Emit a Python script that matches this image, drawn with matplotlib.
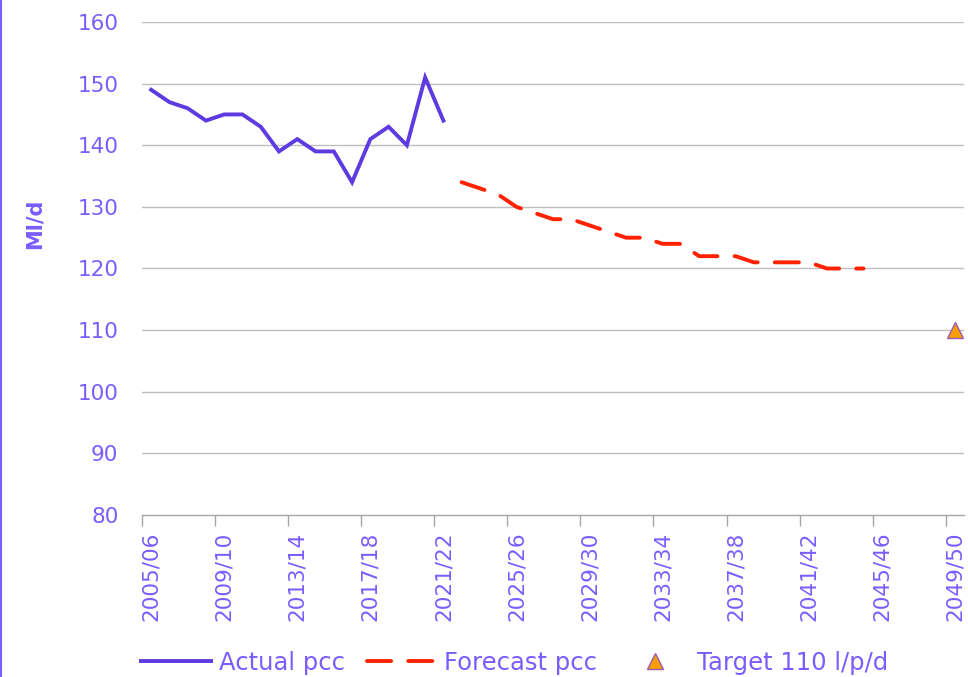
import matplotlib
matplotlib.use('Agg')
from matplotlib import pyplot as plt
from matplotlib.lines import Line2D
import numpy as np

years = [f'{y}/{(y + 1) % 100:02d}' for y in range(2005, 2050)]
actual_pcc = [149, 147, 146, 144, 145, 145, 143, 139, 141, 139, 139, 134, 141, 143, 140, 151, 144]
forecast_start = '2022/23'
forecast_pcc = [134, 133, 132, 130, 129, 128, 128, 127, 126, 125, 125, 124, 124, 122, 122, 122,
                121, 121, 121, 121, 120, 120, 120]
target_year = '2049/50'
target_pcc = [110]

text_c = '#7B5CFF'
actual_c = '#5E3BE1'
forecast_c = '#FF2200'
grid_c = '#BFBFBF'


def main():
    plt.rcParams['font.family'] = ['DejaVu Sans']
    fig = plt.figure(figsize=(9.68, 6.77), dpi=100)
    ax = fig.add_axes([142 / 968, 1 - 515 / 677, (964 - 142) / 968, (515 - 22) / 677])

    x_act = np.arange(len(actual_pcc))
    i0 = years.index(forecast_start)
    x_fc = np.arange(i0, i0 + len(forecast_pcc))
    x_tg = [years.index(target_year)]

    ax.plot(x_act, actual_pcc, color=actual_c, lw=2.8, solid_joinstyle='miter', label='Actual pcc', zorder=3)
    ax.plot(x_fc, forecast_pcc, color=forecast_c, lw=2.8, linestyle=(0, (6.2, 4.4)),
            dash_capstyle='round', label='Forecast pcc', zorder=3)
    ax.plot(x_tg, target_pcc, linestyle='none', marker='^', markersize=11, markerfacecolor='#F5A000',
            markeredgecolor='#9C5BB5', markeredgewidth=1, label='Target 110 l/p/d', zorder=4, clip_on=False)

    ax.set_xlim(-0.5, len(years) - 0.5)
    ax.set_ylim(80, 160)
    ax.set_yticks(range(80, 161, 10))
    for y in range(90, 161, 10):
        ax.axhline(y, color=grid_c, lw=1, zorder=1)

    # tick marks on category boundaries, labels on category centres
    ax.set_xticks(np.arange(-0.5, len(years), 4))
    ax.set_xticklabels([])
    lab_idx = list(range(0, len(years), 4))
    ax.set_xticks(lab_idx, minor=True)
    ax.set_xticklabels([years[i] for i in lab_idx], minor=True, rotation=90, color=text_c, fontsize=15.5)
    ax.tick_params(axis='x', which='major', length=8, width=1, color='#A6A6A6', direction='out')
    ax.tick_params(axis='x', which='minor', length=0, pad=12)
    ax.tick_params(axis='y', length=0, pad=17, labelcolor=text_c, labelsize=15.5)

    for s in ['top', 'right', 'left']:
        ax.spines[s].set_visible(False)
    ax.spines['bottom'].set_color('#A6A6A6')
    ax.spines['bottom'].set_linewidth(1)

    fig.text(35 / 968, 1 - 224 / 677, 'Ml/d', rotation=90, ha='center', va='center',
             color=text_c, fontsize=15, fontweight='bold')

    fig.legend(loc='center left', bbox_to_anchor=(141 / 968, 1 - 663 / 677), ncol=3, frameon=False,
               fontsize=17.5, labelcolor=text_c, handlelength=2.9,
               handletextpad=0.3, columnspacing=0.9, borderpad=0, borderaxespad=0)

    fig.add_artist(Line2D([0.001, 0.001], [0, 1], color='#7B5CFF', lw=1.5))

    plt.savefig('out.png', dpi=100)


if __name__ == '__main__':
    main()
